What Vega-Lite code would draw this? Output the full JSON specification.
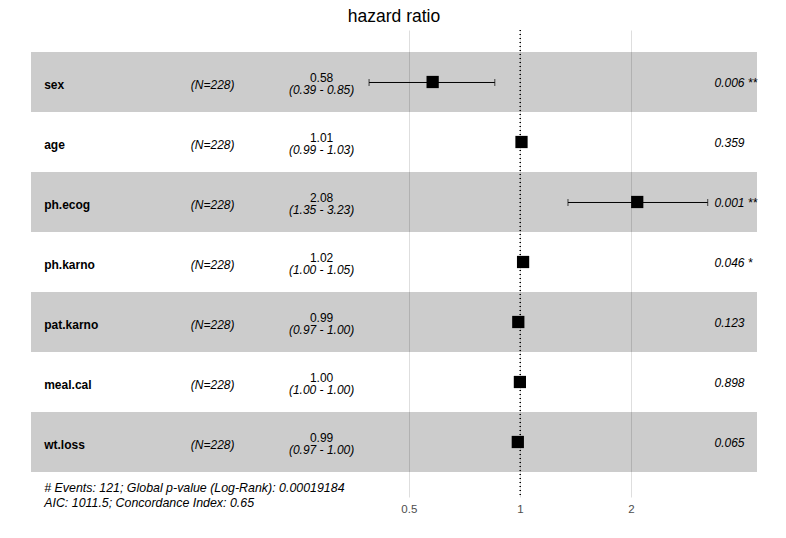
{
  "$schema": "https://vega.github.io/schema/vega-lite/v6.json",
  "autosize": {"type": "none"},
  "width": 726,
  "height": 467,
  "padding": {"left": 31, "top": 30, "right": 29, "bottom": 41},
  "background": "white",
  "title": {"text": "hazard ratio", "fontSize": 17.5, "font": "Liberation Sans", "fontWeight": "normal", "color": "black", "anchor": "middle", "frame": "group", "baseline": "bottom", "offset": -14},
  "config": {"view": {"stroke": null}, "text": {"font": "Liberation Sans", "fontSize": 12, "color": "black"}},
  "data": {"values": [
    {"var": "sex", "N": "(N=228)", "hr": 0.58, "lo": 0.39, "hi": 0.855, "est": "0.58", "ci": "(0.39 - 0.85)", "p": "0.006 **", "shaded": true},
    {"var": "age", "N": "(N=228)", "hr": 1.01, "lo": 0.99, "hi": 1.03, "est": "1.01", "ci": "(0.99 - 1.03)", "p": "0.359", "shaded": false},
    {"var": "ph.ecog", "N": "(N=228)", "hr": 2.08, "lo": 1.35, "hi": 3.23, "est": "2.08", "ci": "(1.35 - 3.23)", "p": "0.001 **", "shaded": true},
    {"var": "ph.karno", "N": "(N=228)", "hr": 1.02, "lo": 1.0, "hi": 1.05, "est": "1.02", "ci": "(1.00 - 1.05)", "p": "0.046 *", "shaded": false},
    {"var": "pat.karno", "N": "(N=228)", "hr": 0.99, "lo": 0.97, "hi": 1.0, "est": "0.99", "ci": "(0.97 - 1.00)", "p": "0.123", "shaded": true},
    {"var": "meal.cal", "N": "(N=228)", "hr": 1.0, "lo": 1.0, "hi": 1.0, "est": "1.00", "ci": "(1.00 - 1.00)", "p": "0.898", "shaded": false},
    {"var": "wt.loss", "N": "(N=228)", "hr": 0.987, "lo": 0.97, "hi": 1.0, "est": "0.99", "ci": "(0.97 - 1.00)", "p": "0.065", "shaded": true}
  ]},
  "encoding": {
    "y": {"field": "var", "type": "nominal", "sort": null, "axis": null,
          "scale": {"type": "band", "domain": ["sex", "age", "ph.ecog", "ph.karno", "pat.karno", "meal.cal", "wt.loss"],
                    "paddingInner": 0, "paddingOuter": 0.3917, "align": 0.468}}
  },
  "layer": [
    {
      "transform": [{"filter": "datum.shaded"}],
      "mark": {"type": "rect", "color": "black", "opacity": 0.2},
      "encoding": {}
    },
    {
      "mark": {"type": "rule", "color": "black", "strokeDash": [1, 3], "strokeWidth": 1, "xOffset": 0.5},
      "encoding": {"y": null, "x": {"datum": 1, "type": "quantitative"}}
    },
    {
      "mark": {"type": "rule", "color": "black", "strokeWidth": 1, "yOffset": 0.5},
      "encoding": {
        "x": {"field": "lo", "type": "quantitative",
              "scale": {"type": "log", "base": 2, "domain": [0.04727, 4.393], "nice": false, "zero": false},
              "axis": {"values": [0.5, 1, 2], "format": "~g", "title": null, "domain": false, "ticks": false, "tickSize": 0,
                       "labelPadding": 15.5, "labelBaseline": "alphabetic", "labelFont": "Liberation Sans", "labelFontSize": 11.5, "labelColor": "#4D4D4D",
                       "grid": true, "gridColor": "#dedede", "gridWidth": 1}},
        "x2": {"field": "hi"}
      }
    },
    {
      "mark": {"type": "tick", "color": "black", "orient": "vertical", "size": 7, "thickness": 1, "yOffset": 0.5},
      "encoding": {"x": {"field": "lo", "type": "quantitative"}}
    },
    {
      "mark": {"type": "tick", "color": "black", "orient": "vertical", "size": 7, "thickness": 1, "yOffset": 0.5},
      "encoding": {"x": {"field": "hi", "type": "quantitative"}}
    },
    {
      "mark": {"type": "square", "color": "black", "filled": true, "opacity": 1, "size": 150},
      "encoding": {"x": {"field": "hr", "type": "quantitative"}}
    },
    {
      "mark": {"type": "text", "align": "left", "baseline": "alphabetic", "fontWeight": "bold", "dy": 6.7},
      "encoding": {"x": {"datum": 0.05133, "type": "quantitative"}, "text": {"field": "var"}}
    },
    {
      "mark": {"type": "text", "align": "left", "baseline": "alphabetic", "fontStyle": "italic", "dy": 6.7},
      "encoding": {"x": {"datum": 0.1282, "type": "quantitative"}, "text": {"field": "N"}}
    },
    {
      "mark": {"type": "text", "align": "center", "baseline": "alphabetic", "dy": 0},
      "encoding": {"x": {"datum": 0.29, "type": "quantitative"}, "text": {"field": "est"}}
    },
    {
      "mark": {"type": "text", "align": "center", "baseline": "alphabetic", "fontStyle": "italic", "dy": 12},
      "encoding": {"x": {"datum": 0.29, "type": "quantitative"}, "text": {"field": "ci"}}
    },
    {
      "mark": {"type": "text", "align": "left", "baseline": "alphabetic", "fontStyle": "italic", "dy": 5.5},
      "encoding": {"x": {"datum": 3.369, "type": "quantitative"}, "text": {"field": "p"}}
    },
    {
      "data": {"values": [{"note": "# Events: 121; Global p-value (Log-Rank): 0.00019184\nAIC: 1011.5; Concordance Index: 0.65", "var": "wt.loss"}]},
      "mark": {"type": "text", "align": "left", "baseline": "alphabetic", "fontStyle": "italic", "fontSize": 12.4, "lineBreak": "\n", "lineHeight": 15, "dy": 49.7},
      "encoding": {"x": {"datum": 0.05133, "type": "quantitative"}, "text": {"field": "note"}}
    }
  ]
}
